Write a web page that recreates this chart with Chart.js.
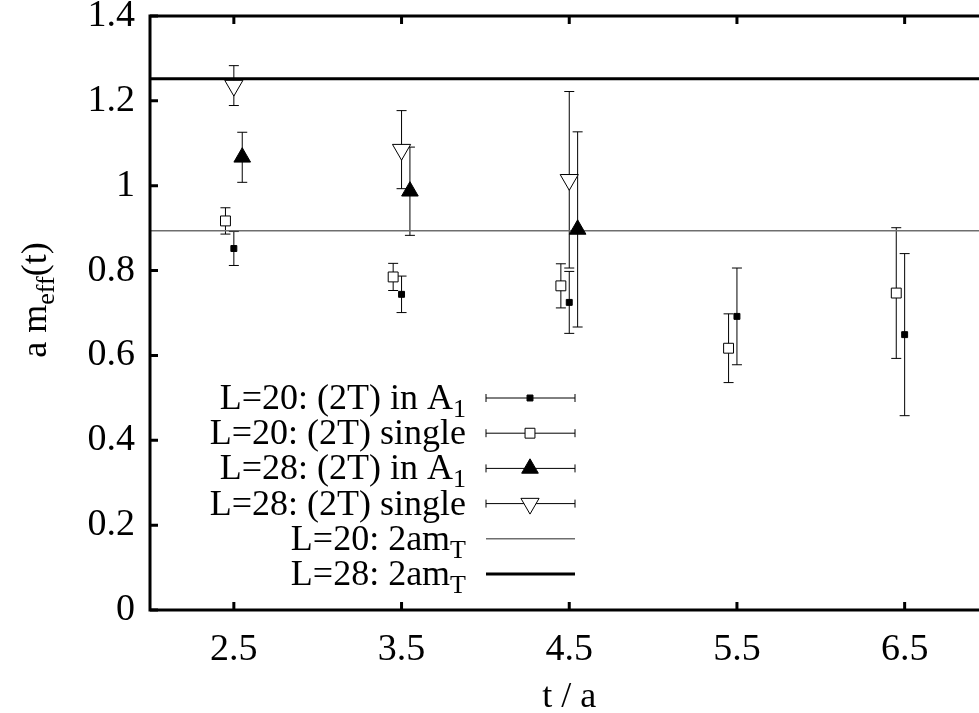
<!DOCTYPE html>
<html>
<head>
<meta charset="utf-8">
<title>Effective mass</title>
<script src="https://cdn.jsdelivr.net/npm/chart.js"></script>
<style>
  html, body { margin: 0; padding: 0; background: #fff; overflow: hidden; }
  #wrap { width: 1000px; height: 713px; }
</style>
</head>
<body>
<div id="wrap"><canvas id="myChart"></canvas></div>
<script>
// tick positions
var tTicks = [2.5, 3.5, 4.5, 5.5, 6.5];
var mTicks = [0, 0.2, 0.4, 0.6, 0.8, 1, 1.2, 1.4];
var tRange = [2, 7];

// L=20, (2T) in A1
var l20A1T = [2.5, 3.5, 4.5, 5.5, 6.5];
var l20A1M = [0.852, 0.744, 0.725, 0.692, 0.649];
var l20A1Err = [0.040, 0.043, 0.073, 0.114, 0.191];

// L=20, (2T) single
var l20SingleT = [2.45, 3.45, 4.45, 5.45, 6.45];
var l20SingleM = [0.917, 0.785, 0.764, 0.617, 0.747];
var l20SingleErr = [0.031, 0.032, 0.052, 0.081, 0.154];

// L=28, (2T) in A1
var l28A1T = [2.55, 3.55, 4.55];
var l28A1M = [1.067, 0.987, 0.897];
var l28A1Err = [0.059, 0.104, 0.230];

// L=28, (2T) single
var l28SingleT = [2.5, 3.5, 4.5];
var l28SingleM = [1.236, 1.085, 1.014];
var l28SingleErr = [0.047, 0.092, 0.208];

// 2 a m_T levels
var twoAmT20 = 0.894;
var twoAmT28 = 1.252;

var serif = "'Liberation Serif', 'Times New Roman', serif";
var big = 36, small = 26;

function points(t, m) {
  return t.map(function (v, i) { return { x: v, y: m[i] }; });
}

// draws the vertical error bars under the markers
var errorBars = {
  id: 'errorBars',
  beforeDatasetsDraw: function (chart) {
    var ctx = chart.ctx, xs = chart.scales.x, ys = chart.scales.y, a = chart.chartArea;
    ctx.save();
    ctx.beginPath();
    ctx.rect(a.left, a.top, a.right - a.left, a.bottom - a.top);
    ctx.clip();
    ctx.strokeStyle = '#000';
    ctx.lineWidth = 1;
    chart.data.datasets.forEach(function (ds) {
      if (!ds.err) return;
      ds.data.forEach(function (p, i) {
        var x = xs.getPixelForValue(p.x);
        var y1 = ys.getPixelForValue(p.y + ds.err[i]);
        var y2 = ys.getPixelForValue(p.y - ds.err[i]);
        ctx.beginPath();
        ctx.moveTo(x, y1); ctx.lineTo(x, y2);
        ctx.moveTo(x - 5, y1); ctx.lineTo(x + 5, y1);
        ctx.moveTo(x - 5, y2); ctx.lineTo(x + 5, y2);
        ctx.stroke();
      });
    });
    ctx.restore();
  }
};

// right-aligned text with a subscript
function subText(ctx, x, y, main, sub) {
  ctx.font = big + 'px ' + serif;
  var w1 = ctx.measureText(main).width;
  ctx.font = small + 'px ' + serif;
  var w2 = sub ? ctx.measureText(sub).width : 0;
  var x0 = x - w1 - w2;
  ctx.textAlign = 'left';
  ctx.font = big + 'px ' + serif;
  ctx.fillText(main, x0, y);
  if (sub) {
    ctx.font = small + 'px ' + serif;
    ctx.fillText(sub, x0 + w1, y + 8);
  }
}

// gnuplot-like frame with inward ticks, axis titles and key
var frame = {
  id: 'frame',
  afterDatasetsDraw: function (chart) {
    var ctx = chart.ctx, xs = chart.scales.x, ys = chart.scales.y, a = chart.chartArea;
    ctx.save();
    ctx.strokeStyle = '#000';
    ctx.lineWidth = 3;
    ctx.strokeRect(a.left, a.top, a.right - a.left, a.bottom - a.top);
    ctx.beginPath();
    tTicks.forEach(function (v) {
      var x = xs.getPixelForValue(v);
      ctx.moveTo(x, a.bottom); ctx.lineTo(x, a.bottom - 8);
      ctx.moveTo(x, a.top); ctx.lineTo(x, a.top + 8);
    });
    mTicks.forEach(function (v) {
      var y = ys.getPixelForValue(v);
      ctx.moveTo(a.left, y); ctx.lineTo(a.left + 8, y);
      ctx.moveTo(a.right, y); ctx.lineTo(a.right - 8, y);
    });
    ctx.stroke();

    ctx.fillStyle = '#000';
    ctx.textBaseline = 'alphabetic';

    // x title
    ctx.font = big + 'px ' + serif;
    ctx.textAlign = 'center';
    ctx.fillText('t / a', (a.left + a.right) / 2, 707);

    // y title: a m_eff(t)
    ctx.save();
    ctx.translate(46, 300);
    ctx.rotate(-Math.PI / 2);
    ctx.font = big + 'px ' + serif;
    var wa = ctx.measureText('a m').width, wt = ctx.measureText('(t)').width;
    ctx.font = small + 'px ' + serif;
    var we = ctx.measureText('eff').width;
    var x0 = -(wa + we + wt) / 2;
    ctx.textAlign = 'left';
    ctx.font = big + 'px ' + serif;
    ctx.fillText('a m', x0, 0);
    ctx.font = small + 'px ' + serif;
    ctx.fillText('eff', x0 + wa, 8);
    ctx.font = big + 'px ' + serif;
    ctx.fillText('(t)', x0 + wa + we, 0);
    ctx.restore();

    // key
    chart.data.datasets.forEach(function (ds, i) {
      var y = 398 + i * 35.2;
      ctx.fillStyle = '#000';
      subText(ctx, 466, y + 11, ds.label, ds.sub);
      ctx.strokeStyle = ds.borderColor;
      if (ds.err) {
        ctx.lineWidth = 1;
        ctx.beginPath();
        ctx.moveTo(486, y); ctx.lineTo(575, y);
        ctx.moveTo(486, y - 4); ctx.lineTo(486, y + 4);
        ctx.moveTo(575, y - 4); ctx.lineTo(575, y + 4);
        ctx.stroke();
        ctx.fillStyle = ds.backgroundColor;
        ctx.lineWidth = ds.borderWidth;
        Chart.helpers.drawPoint(ctx, {
          pointStyle: ds.pointStyle,
          radius: ds.pointRadius,
          rotation: ds.pointRotation || 0,
          borderWidth: ds.borderWidth
        }, 530, y);
      } else {
        ctx.lineWidth = ds.borderWidth;
        ctx.beginPath();
        ctx.moveTo(486, y); ctx.lineTo(575, y);
        ctx.stroke();
      }
    });
    ctx.restore();
  }
};

new Chart('myChart', {
  type: 'scatter',
  data: {
    datasets: [{
      label: 'L=20: (2T) in A', sub: '1',
      data: points(l20A1T, l20A1M), err: l20A1Err,
      pointStyle: 'rect', pointRadius: 4.2,
      backgroundColor: '#000', borderColor: '#000', borderWidth: 1
    }, {
      label: 'L=20: (2T) single',
      data: points(l20SingleT, l20SingleM), err: l20SingleErr,
      pointStyle: 'rect', pointRadius: 7,
      backgroundColor: '#fff', borderColor: '#000', borderWidth: 1
    }, {
      label: 'L=28: (2T) in A', sub: '1',
      data: points(l28A1T, l28A1M), err: l28A1Err,
      pointStyle: 'triangle', pointRadius: 9.6,
      backgroundColor: '#000', borderColor: '#000', borderWidth: 1
    }, {
      label: 'L=28: (2T) single',
      data: points(l28SingleT, l28SingleM), err: l28SingleErr,
      pointStyle: 'triangle', pointRotation: 180, pointRadius: 10.5,
      backgroundColor: '#fff', borderColor: '#000', borderWidth: 1
    }, {
      label: 'L=20: 2am', sub: 'T',
      data: points(tRange, [twoAmT20, twoAmT20]),
      showLine: true, pointRadius: 0,
      borderColor: '#6e6e6e', borderWidth: 1.5
    }, {
      label: 'L=28: 2am', sub: 'T',
      data: points(tRange, [twoAmT28, twoAmT28]),
      showLine: true, pointRadius: 0,
      borderColor: '#000', borderWidth: 3
    }]
  },
  options: {
    responsive: true,
    maintainAspectRatio: false,
    animation: false,
    events: [],
    layout: { padding: { left: 0, top: 16, right: 11, bottom: 0 } },
    plugins: {
      legend: { display: false },
      tooltip: { enabled: false }
    },
    scales: {
      x: {
        type: 'linear',
        min: tRange[0],
        max: tRange[1],
        grid: { display: false, drawTicks: false },
        border: { display: false },
        afterBuildTicks: function (scale) {
          scale.ticks = tTicks.map(function (v) { return { value: v }; });
        },
        afterFit: function (scale) {
          scale.height = 103;
          scale.paddingLeft = 0;
          scale.paddingRight = 0;
        },
        ticks: {
          color: '#000',
          padding: 17,
          maxRotation: 0,
          font: { family: serif, size: 38 },
          callback: function (v) { return v.toFixed(1); }
        }
      },
      y: {
        min: 0,
        max: 1.4,
        grid: { display: false, drawTicks: false },
        border: { display: false },
        afterBuildTicks: function (scale) {
          scale.ticks = mTicks.map(function (v) { return { value: v }; });
        },
        afterFit: function (scale) {
          scale.width = 150;
          scale.paddingTop = 0;
          scale.paddingBottom = 0;
        },
        ticks: {
          color: '#000',
          padding: 15,
          font: { family: serif, size: 38 },
          callback: function (v) { return String(v); }
        }
      }
    }
  },
  plugins: [errorBars, frame]
});
</script>
</body>
</html>
